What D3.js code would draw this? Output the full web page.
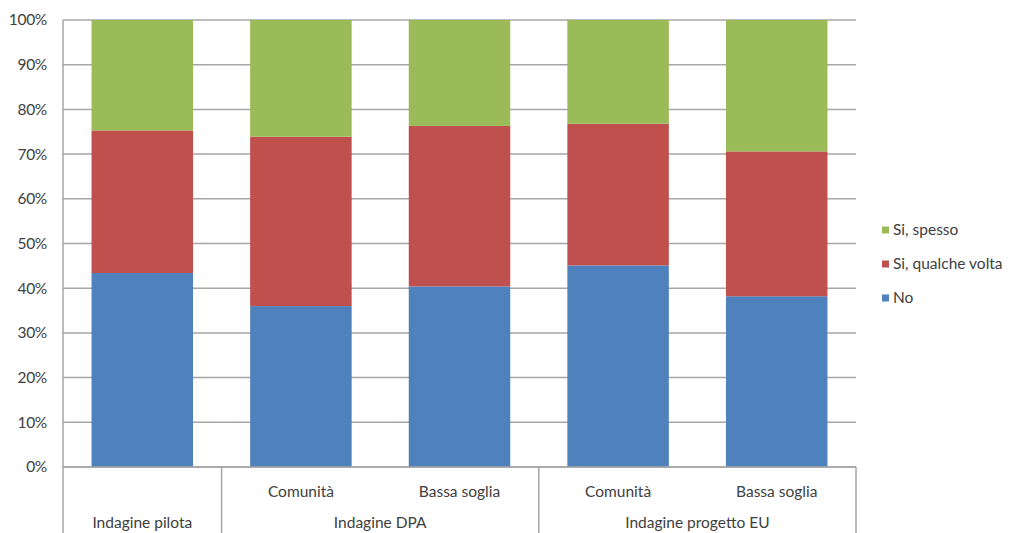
<!DOCTYPE html>
<html>
<head>
<meta charset="utf-8">
<script src="https://cdn.jsdelivr.net/npm/d3@7"></script>
<style>
  html, body { margin: 0; padding: 0; background: #fff; }
  svg { display: block; font-family: Lato, "Open Sans", sans-serif; }
</style>
</head>
<body>
<svg id="chart" width="1011" height="533"></svg>
<script>
// Survey groups (two-level category axis)
const groups = ["Indagine pilota", "Indagine DPA", "Indagine progetto EU"];
const subLabels = ["", "Comunità", "Bassa soglia", "Comunità", "Bassa soglia"];
const groupOf = [0, 1, 1, 2, 2];

// Shares (%) per answer
const seriesNames = ["No", "Si, qualche volta", "Si, spesso"];
const no = [43.4, 36.0, 40.4, 45.1, 38.2];
const qualcheVolta = [31.9, 37.9, 35.9, 31.7, 32.4];
const spesso = [24.7, 26.1, 23.7, 23.2, 29.4];
const colors = ["#4F81BD", "#C0504D", "#9BBB59"];

const yTicks = [0, 10, 20, 30, 40, 50, 60, 70, 80, 90, 100];

const svg = d3.select("#chart");
const plotLeft = 63, plotRight = 856, plotTop = 20, plotBottom = 467;
const textColor = "#404040";
const gridColor = "#a6a6a6";
const font = 15.5;

const idx = d3.range(no.length);
const x = d3.scaleBand().domain(idx).range([plotLeft, plotRight]).paddingInner(0.36).paddingOuter(0.18);
const y = d3.scaleLinear().domain([0, 100]).range([plotBottom, plotTop]);

// horizontal gridlines
svg.append("g").selectAll("line").data(yTicks).join("line")
  .attr("x1", plotLeft).attr("x2", plotRight)
  .attr("y1", d => y(d)).attr("y2", d => y(d))
  .attr("stroke", gridColor).attr("stroke-width", 1.5);

// y tick labels
svg.append("g").selectAll("text").data(yTicks).join("text")
  .attr("x", 47).attr("y", d => y(d)).attr("dy", "0.35em")
  .attr("text-anchor", "end").attr("font-size", font).attr("fill", textColor)
  .attr("letter-spacing", -0.3)
  .text(d => d + "%");

// stacked bars
const rows = idx.map(i => ({ i, No: no[i], "Si, qualche volta": qualcheVolta[i], "Si, spesso": spesso[i] }));
const stack = d3.stack().keys(seriesNames)(rows);
svg.append("g").selectAll("g").data(stack).join("g")
  .attr("fill", (d, k) => colors[k])
  .selectAll("rect").data(d => d).join("rect")
  .attr("x", d => x(d.data.i)).attr("width", x.bandwidth())
  .attr("y", d => y(d[1])).attr("height", d => y(d[0]) - y(d[1]));

// axes lines
svg.append("line").attr("x1", plotLeft).attr("x2", plotLeft).attr("y1", plotTop).attr("y2", 533)
  .attr("stroke", gridColor).attr("stroke-width", 1.5);
svg.append("line").attr("x1", plotLeft).attr("x2", plotRight).attr("y1", plotBottom).attr("y2", plotBottom)
  .attr("stroke", gridColor).attr("stroke-width", 1.5);

// group separators below the axis
const step = x.step();
const groupBounds = groups.map((g, k) => {
  const members = idx.filter(i => groupOf[i] === k);
  const x0 = x(members[0]) - (step - x.bandwidth()) / 2;
  const x1 = x(members[members.length - 1]) + x.bandwidth() + (step - x.bandwidth()) / 2;
  return { name: g, x0, x1 };
});
svg.append("g").selectAll("line").data(groupBounds.map(d => d.x1)).join("line")
  .attr("x1", d => d).attr("x2", d => d).attr("y1", plotBottom).attr("y2", 533)
  .attr("stroke", gridColor).attr("stroke-width", 1.5);

// sub-category labels
svg.append("g").selectAll("text").data(idx.filter(i => subLabels[i])).join("text")
  .attr("x", i => x(i) + x.bandwidth() / 2).attr("y", 492).attr("dy", "0.35em")
  .attr("text-anchor", "middle").attr("font-size", font).attr("fill", textColor)
  .text(i => subLabels[i]);

// group labels
svg.append("g").selectAll("text").data(groupBounds).join("text")
  .attr("x", d => (d.x0 + d.x1) / 2).attr("y", 523).attr("dy", "0.35em")
  .attr("text-anchor", "middle").attr("font-size", font).attr("fill", textColor)
  .text(d => d.name);

// legend (top to bottom: reverse stack order)
const legendItems = seriesNames.map((n, k) => ({ n, c: colors[k] })).reverse();
const lg = svg.append("g").selectAll("g").data(legendItems).join("g")
  .attr("transform", (d, k) => `translate(882, ${230 + k * 34})`);
lg.append("rect").attr("x", 0).attr("y", -3.5).attr("width", 7).attr("height", 7).attr("fill", d => d.c);
lg.append("text").attr("x", 11).attr("y", 0).attr("dy", "0.35em")
  .attr("font-size", font).attr("fill", textColor).text(d => d.n);
</script>
</body>
</html>
